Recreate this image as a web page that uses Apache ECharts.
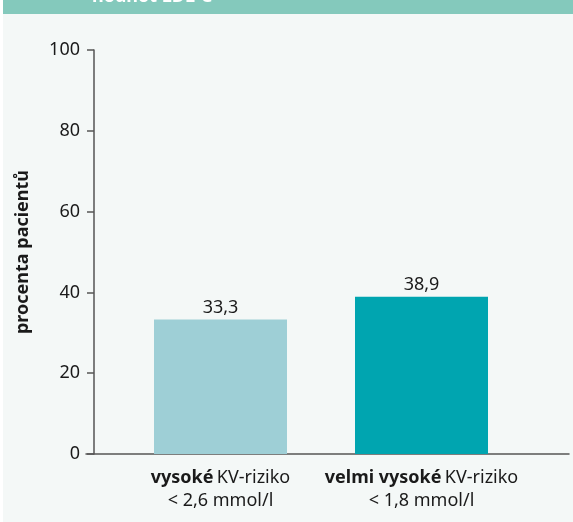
<!DOCTYPE html>
<html><head><meta charset="utf-8">
<script src="https://cdn.jsdelivr.net/npm/echarts@6/dist/echarts.min.js"></script>
<style>html,body{margin:0;padding:0;background:#ffffff;}#c{width:573px;height:522px;}</style>
</head><body><div id="c"></div>
<script>
const catBold = ['vysoké', 'velmi vysoké'];
const catRest = ['KV-riziko', 'KV-riziko'];
const catLimit = ['< 2,6 mmol/l', '< 1,8 mmol/l'];
const values = [33.3, 38.9];
const barColors = ['#9ecfd6', '#00a5b0'];
const yMin = 0, yMax = 100, yStep = 20;
const yName = 'procenta pacientů';
const headerText = 'hodnot LDL-C';

const categories = catBold.map((b, i) => b + '|' + catRest[i] + '|' + catLimit[i]);
const FONT = 'Noto Sans';
const chart = echarts.init(document.getElementById('c'));
chart.setOption({
  animation: false,
  backgroundColor: 'transparent',
  graphic: [
    { type: 'rect', shape: { x: 3, y: 0, width: 570, height: 522 }, style: { fill: '#f4f8f7' }, z: -10 },
    { type: 'rect', shape: { x: 3, y: 0, width: 570, height: 14 }, style: { fill: '#84c9bc' }, z: -5 },
    { type: 'text', x: 92, y: 6, style: { text: headerText, fill: '#ffffff', font: 'bold 18px "Noto Sans"', verticalAlign: 'bottom' }, z: -4 }
  ],
  grid: [
    { left: 120, right: 51, top: 50, bottom: 68 },
    { left: 86, right: 4, top: 50, bottom: 68 }
  ],
  xAxis: [
    { type: 'category', gridIndex: 0, data: categories,
      axisLine: { show: false }, axisTick: { show: false },
      axisLabel: { interval: 0, margin: 12, lineHeight: 23.5,
        formatter: v => { const p = v.split('|'); return '{b|' + p[0] + '} {n|' + p[1] + '}\n{n|' + p[2] + '}'; },
        rich: { b: { fontFamily: FONT, fontWeight: 'bold', fontSize: 18, color: '#1a1a1a', lineHeight: 23.5 },
                n: { fontFamily: FONT, fontSize: 18, color: '#1a1a1a', lineHeight: 23.5 } } } },
    { type: 'value', gridIndex: 1, min: 0, max: 1, show: true,
      axisLine: { show: true, onZero: false, lineStyle: { color: '#555', width: 1.5 } },
      axisTick: { show: false }, axisLabel: { show: false }, splitLine: { show: false } }
  ],
  yAxis: [
    { type: 'value', gridIndex: 0, min: yMin, max: yMax, interval: yStep, offset: 26,
      name: yName, nameLocation: 'middle', nameGap: 62,
      nameTextStyle: { fontFamily: FONT, fontWeight: 'bold', fontSize: 18, color: '#1a1a1a' },
      axisLine: { show: true, lineStyle: { color: '#555', width: 1.5 } },
      axisTick: { show: true, length: 7, lineStyle: { color: '#555', width: 1.5 } },
      axisLabel: { margin: 14, fontFamily: FONT, fontSize: 18, color: '#1a1a1a' },
      splitLine: { show: false } },
    { type: 'value', gridIndex: 1, min: 0, max: 1, show: false }
  ],
  series: [{
    type: 'bar', xAxisIndex: 0, yAxisIndex: 0, barWidth: 133,
    data: values.map((v, i) => ({ value: v, itemStyle: { color: barColors[i] } })),
    label: { show: true, position: 'top', distance: 3, fontFamily: FONT, fontSize: 18, color: '#1a1a1a',
      formatter: p => String(p.value).replace('.', ',') }
  }]
});
</script></body></html>
